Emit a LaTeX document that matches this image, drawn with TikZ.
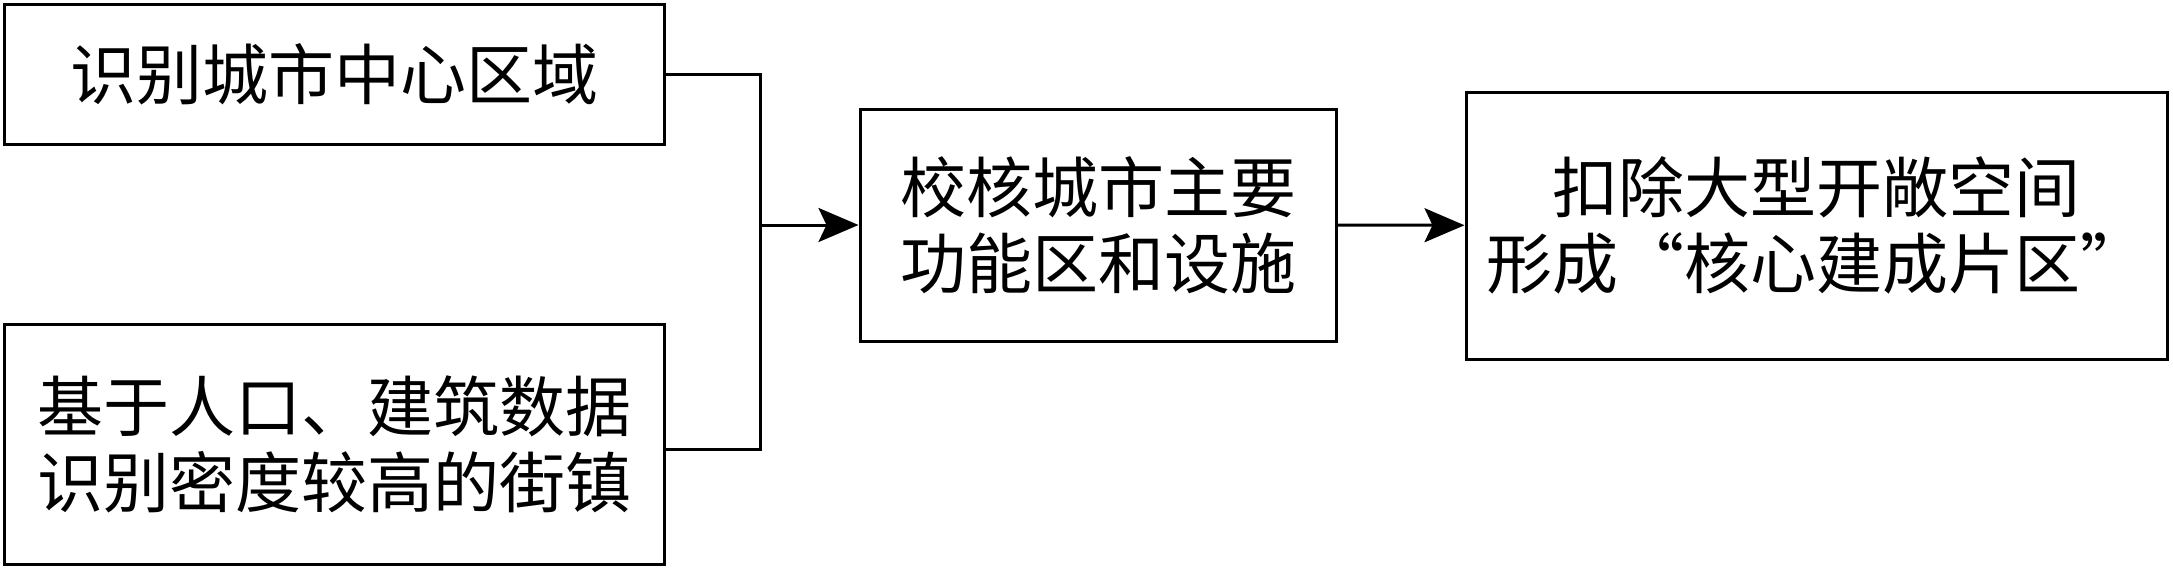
\documentclass[tikz,border=0pt]{standalone}
\usepackage{fontspec}
\setmainfont{Noto Sans CJK SC}
\usetikzlibrary{arrows.meta,positioning}

\begin{document}
\begin{tikzpicture}[x=0.5pt,y=-0.5pt,>={Stealth[length=20pt,width=17pt,inset=4pt]},line width=1.5pt,
	stage/.style={draw=black,rectangle,align=center,inner sep=0pt,font=\fontsize{33pt}{38pt}\selectfont}]

\useasboundingbox (0,0) rectangle (2173,568);

\node[stage,minimum width=330pt,minimum height=70pt] (cen) at (334,74) {识别城市中心区域};
\node[stage,minimum width=330pt,minimum height=120pt] (den) at (334,444) {基于人口、建筑数据\\识别密度较高的街镇};

\node[stage,minimum width=238pt,minimum height=116pt] (chk) at (1098,225) {校核城市主要\\功能区和设施};
\node[stage,minimum width=350.5pt,minimum height=133.5pt] (core) at (1816.5,225.5) {扣除大型开敞空间\\形成“核心建成片区”};

\coordinate (j) at (760,225);

\draw (cen.east) -| (j);
\draw ([yshift=-2.5pt]den.east) -| (j);
\draw[->] (j) -- (chk);
\draw[->] (chk) -- (core);

\end{tikzpicture}
\end{document}
